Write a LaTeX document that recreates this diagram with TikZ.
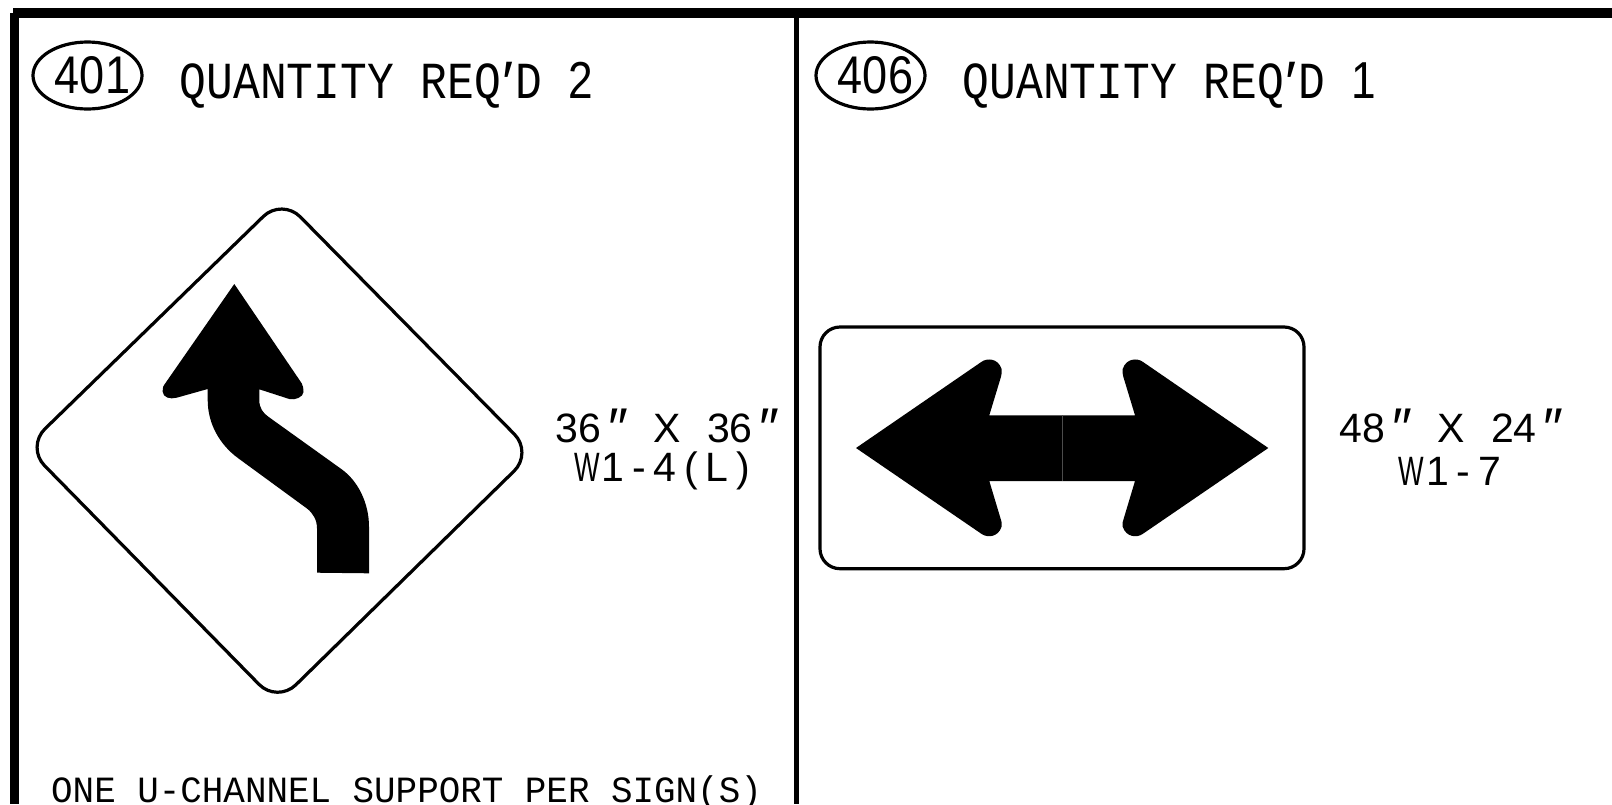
\documentclass[tikz,border=0pt]{standalone}
\usepackage{fontspec}
\usetikzlibrary{shapes.geometric,positioning}
\setmainfont{Liberation Sans}
\newfontfamily\headFont[FakeStretch=.858]{Liberation Mono}
\newfontfamily\footFont[FakeStretch=.97]{Liberation Mono}
\newfontfamily\tagFont[FakeStretch=.85]{Liberation Sans}
\newfontfamily\sizeFont{Liberation Sans}
\newfontfamily\wideFont[FakeStretch=.66]{Liberation Sans}
\newcommand{\headPrime}{\makebox[14pt]{\sizeFont\fontsize{60}{60}\selectfont\raisebox{-5pt}{′}}}
\newcommand{\sizePrime}{{\fontsize{56}{56}\selectfont\raisebox{-5pt}{″}}}
\newcommand{\codeSlot}[1]{\makebox[26pt]{#1}}
\newcommand{\sizeLine}[2]{#1\hspace{7pt}\sizePrime\hspace{26pt}X\hspace{26pt}#2\hspace{7pt}\sizePrime}

\tikzset{
  panelEdge/.style={draw=black,line cap=butt},
  signOutline/.style={draw=black,line width=3.2pt,fill=white},
  signSymbol/.style={fill=black,draw=none},
  signSeam/.style={draw=black!70,line width=.5pt},
  tagOval/.style={draw=black,line width=3.2pt,ellipse,minimum width=109pt,minimum height=67pt,inner sep=0pt},
  headText/.style={font=\headFont\fontsize{52}{52}\selectfont,inner sep=0pt,anchor=west},
  tagText/.style={font=\tagFont\fontsize{53}{53}\selectfont,inner sep=0pt},
  sizeText/.style={font=\sizeFont\fontsize{41}{41}\selectfont,inner sep=0pt},
  footText/.style={font=\footFont\fontsize{37}{37}\selectfont,inner sep=0pt,anchor=west}
}

\begin{document}
\begin{tikzpicture}[x=1pt,y=-1pt]
\useasboundingbox (0,0) rectangle (1612,804);

% panel lines
\draw[panelEdge,line width=10pt] (13,13) -- (1612,13);
\draw[panelEdge,line width=9.5pt] (14.25,13) -- (14.25,804);
\draw[panelEdge,line width=5pt] (796.5,18) -- (796.5,804);

% headings
\foreach \tagX/\tagNum/\tagQty in {87.5/401/2, 870.5/406/1}
{
  \node[tagOval] (oval\tagNum) at (\tagX,75.5) {};
  \node[tagText] (tag\tagNum) at (\tagX+5,75) {\tagNum};
  \node[headText,right=36pt of oval\tagNum.east,yshift=-10pt] (qty\tagNum)
    {QUANTITY REQ\headPrime D {\tagFont\tagQty}};
}

% curve sign
\draw[signOutline,rounded corners=26pt]
  (282,198.3) -- (532.7,452.8) -- (277.3,703) -- (26.3,447) -- cycle;
\fill[signSymbol] (234.3,284) -- (301.7,383.3)
  .. controls (303,385.5) and (303.7,389) .. (303.5,392)
  .. controls (303.3,397) and (295,400.5) .. (289.3,399)
  -- (259.3,389.3) -- (259.3,400)
  .. controls (259.3,408) and (263,413) .. (268.3,416.7)
  -- (341.7,469.3)
  .. controls (358,481) and (369,503) .. (369,526.7)
  -- (369,573.3) -- (317,572.7) -- (317,528.3)
  .. controls (317,520) and (313,513) .. (306.7,508.3)
  -- (238.3,458.3)
  .. controls (220,445) and (207.7,424) .. (207.7,400)
  -- (207.7,389) -- (176.7,397.7)
  .. controls (170,399.5) and (163,397.5) .. (162.6,391.5)
  .. controls (162,388) and (163.5,385.8) .. (165.7,382.7)
  -- cycle;

% double arrow sign
\draw[signOutline,rounded corners=20pt] (820,327) rectangle (1304,568.7);
\fill[signSymbol] (856,448) -- (981.7,361.7)
  .. controls (987,358) and (998,358) .. (1001.6,369)
  .. controls (1002,372) and (1001.6,374.5) .. (1001,376.7)
  -- (989.3,415.3) -- (1135,415.3) -- (1123.3,376.7)
  .. controls (1122.7,374.5) and (1122.3,372) .. (1122.7,369)
  .. controls (1126.3,358) and (1137.3,358) .. (1142.6,361.7)
  -- (1268.3,448) -- (1142.6,534)
  .. controls (1137.3,537.7) and (1126.3,537.7) .. (1122.7,526.7)
  .. controls (1122.3,523.7) and (1122.7,521.2) .. (1123.3,520)
  -- (1135,481) -- (989.3,481) -- (1001,520)
  .. controls (1001.6,521.2) and (1002,523.7) .. (1001.6,526.7)
  .. controls (998,537.7) and (987,537.7) .. (981.7,534)
  -- cycle;
\draw[signSeam] (1062.3,415.3) -- (1062.3,481);

% sizes
\node[sizeText] (size401) at (667.5,428) {\sizeLine{36}{36}};
\node[sizeText] (code401) at (665,471) {\codeSlot{\wideFont W}\codeSlot{1}\codeSlot{-}\codeSlot{4}\codeSlot{(}\codeSlot{L}\codeSlot{)}};
\node[sizeText] (size406) at (1451.5,428) {\sizeLine{48}{24}};
\node[sizeText] (code406) at (1450.5,471) {\codeSlot{\wideFont W}\codeSlot{1}\codeSlot{-}\codeSlot{7}};

\node[footText] (support401) at (51,793) {ONE U-CHANNEL SUPPORT PER SIGN(S)};
\end{tikzpicture}
\end{document}
